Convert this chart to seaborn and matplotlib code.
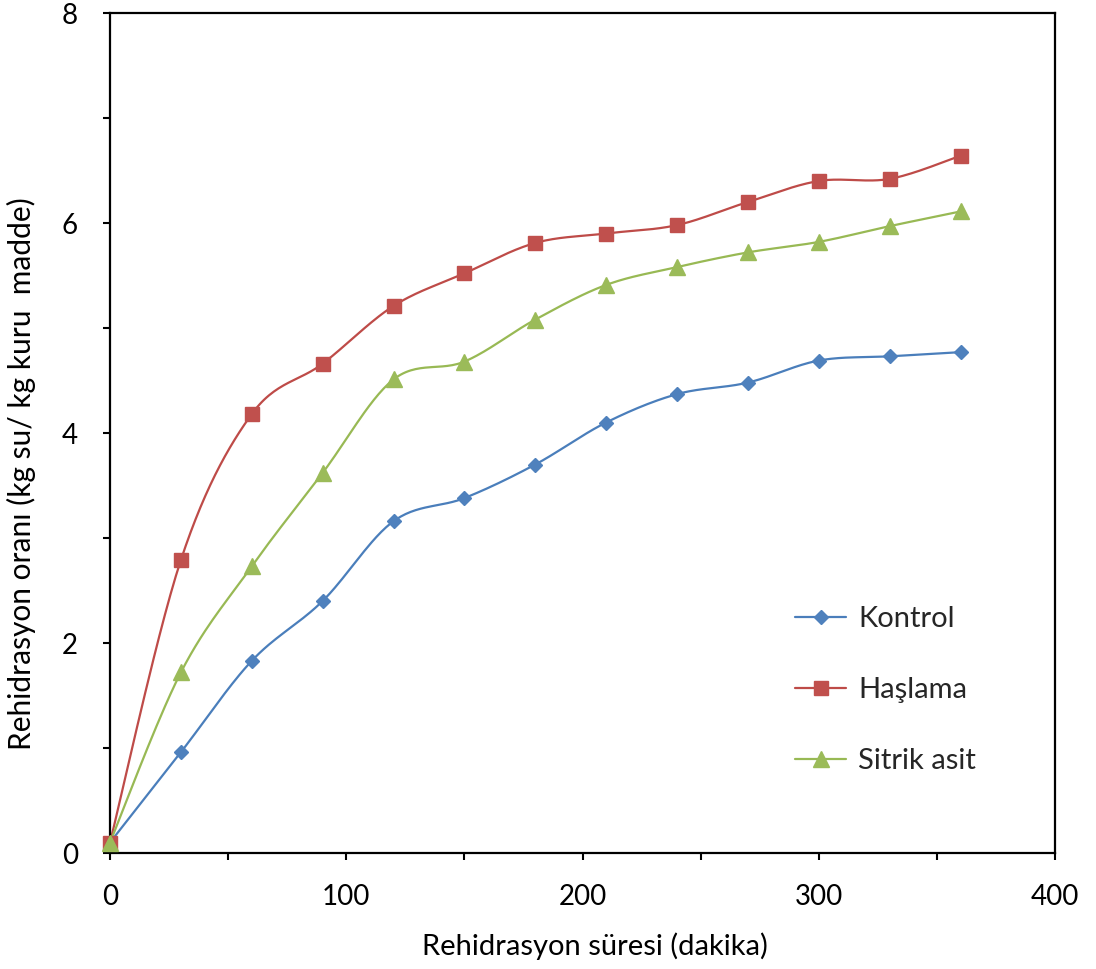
import numpy as np
import pandas as pd
import matplotlib
matplotlib.use("Agg")
import matplotlib.pyplot as plt
from matplotlib.lines import Line2D
from matplotlib.ticker import MultipleLocator, FuncFormatter
import seaborn as sns

# ---- data ----
time_min = [0, 30, 60, 90, 120, 150, 180, 210, 240, 270, 300, 330, 360]
kontrol = [0.10, 0.96, 1.83, 2.40, 3.16, 3.38, 3.70, 4.10, 4.37, 4.48, 4.69, 4.73, 4.77]
haslama = [0.10, 2.79, 4.18, 4.66, 5.21, 5.52, 5.81, 5.90, 5.98, 6.20, 6.40, 6.42, 6.64]
sitrik = [0.10, 1.72, 2.73, 3.62, 4.51, 4.68, 5.08, 5.41, 5.58, 5.72, 5.82, 5.97, 6.11]
series_names = ["Kontrol", "Haşlama", "Sitrik asit"]
x_label = "Rehidrasyon süresi (dakika)"
y_label = "Rehidrasyon oranı (kg su/ kg kuru  madde)"

line_colors = ["#4A7EBB", "#BE4B48", "#98B954"]
marker_colors = ["#4F81BD", "#C0504D", "#9BBB59"]
markers = ["D", "s", "^"]
msizes = [7.5, 10.5, 12]

sns.set_theme(style="white")
plt.rcParams["font.family"] = ["Lato", "DejaVu Sans"]

df = pd.DataFrame({
    "t": time_min * 3,
    "v": kontrol + haslama + sitrik,
    "s": [series_names[0]] * 13 + [series_names[1]] * 13 + [series_names[2]] * 13,
})

fig = plt.figure(figsize=(10.96, 9.69), dpi=100)
ax = fig.add_axes([110 / 1096, 1 - 853 / 969, 945 / 1096, 840 / 969])


def smooth(xs, ys, n=30):
    # Excel-like Bezier smoothing (affine invariant, so data coords are fine)
    P = np.column_stack([xs, ys]).astype(float)
    out = []
    for i in range(len(P) - 1):
        p0 = P[i - 1] if i > 0 else P[i]
        p1 = P[i]
        p2 = P[i + 1]
        p3 = P[i + 2] if i + 2 < len(P) else P[i + 1]
        c1 = p1 + (p2 - p0) / 6
        c2 = p2 - (p3 - p1) / 6
        t = np.linspace(0, 1, n)[:, None]
        seg = ((1 - t) ** 3) * p1 + 3 * ((1 - t) ** 2) * t * c1 + 3 * (1 - t) * t ** 2 * c2 + t ** 3 * p2
        out.append(seg if i == 0 else seg[1:])
    return np.vstack(out)


handles = []
for i, name in enumerate(series_names):
    sub = df[df["s"] == name]
    curve = smooth(sub["t"].values, sub["v"].values)
    sns.lineplot(x=curve[:, 0], y=curve[:, 1], ax=ax, color=line_colors[i], lw=1.6,
                 sort=False, estimator=None, legend=False)
for i, name in enumerate(series_names):
    sub = df[df["s"] == name]
    ax.plot(sub["t"], sub["v"], ls="none", marker=markers[i], ms=msizes[i],
            mfc=marker_colors[i], mec=marker_colors[i], zorder=5, clip_on=False)
    handles.append(Line2D([], [], color=line_colors[i], lw=1.6, marker=markers[i],
                          ms=msizes[i], mfc=marker_colors[i], mec=marker_colors[i]))

ax.set_xlim(0, 400)
ax.set_ylim(0, 8)
ax.xaxis.set_major_locator(MultipleLocator(50))
ax.yaxis.set_major_locator(MultipleLocator(1))
ax.xaxis.set_major_formatter(FuncFormatter(lambda v, p: f"{int(v)}" if int(v) % 100 == 0 else ""))
ax.yaxis.set_major_formatter(FuncFormatter(lambda v, p: f"{int(v)}" if int(v) % 2 == 0 else ""))
ax.tick_params(axis="both", direction="out", length=5, width=1.5, color="black",
               labelsize=20, labelcolor="black", bottom=True, left=True)
ax.tick_params(axis="x", pad=17)
ax.tick_params(axis="y", pad=18)
for sp in ax.spines.values():
    sp.set_color("black")
    sp.set_linewidth(1.6)

ax.set_xlabel(x_label, fontsize=21, color="black")
ax.set_ylabel(y_label, fontsize=21.5, color="black")
ax.xaxis.set_label_coords(0.513, -0.095)
ax.yaxis.set_label_coords(-0.078, 0.452)

ax.legend(handles, series_names, loc="upper left", bbox_to_anchor=(0.713, 0.308),
          frameon=False, fontsize=21, handlelength=1.75, labelspacing=1.54,
          handletextpad=0.4, borderaxespad=0)

fig.savefig("out.png", dpi=100)
